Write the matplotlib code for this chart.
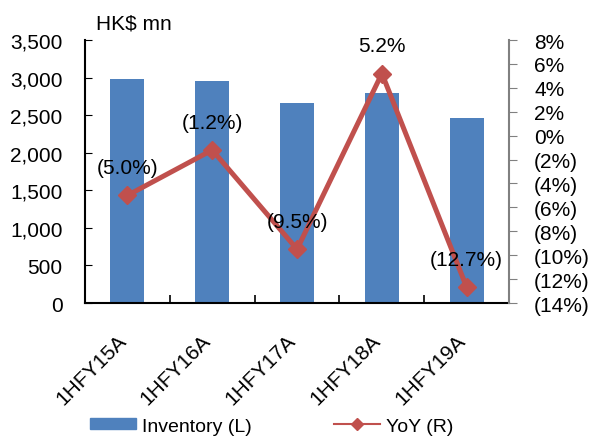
import matplotlib
matplotlib.use("Agg")
from matplotlib import pyplot as plt
from matplotlib import transforms
from matplotlib.ticker import FuncFormatter
from matplotlib.lines import Line2D
from matplotlib.patches import Patch
import numpy as np

plt.rcParams['font.family'] = ['Liberation Sans', 'DejaVu Sans']

periods = ['1HFY15A', '1HFY16A', '1HFY17A', '1HFY18A', '1HFY19A']
inventory = [2980, 2955, 2663, 2796, 2460]
yoy = [-5.0, -1.2, -9.5, 5.2, -12.7]
yoy_labels = ['(5.0%)', '(1.2%)', '(9.5%)', '5.2%', '(12.7%)']

bar_color = '#4F81BD'
line_color = '#C0504D'
fs = 15

fig = plt.figure(figsize=(5.9, 4.39), dpi=100)
ax = fig.add_axes([0.144, 0.3075, 0.719, 0.599])
x = np.arange(len(periods))

ax.bar(x, inventory, width=0.4, color=bar_color)
ax.set_xlim(-0.5, len(periods) - 0.5)
ax.set_ylim(0, 3500)
ax.set_yticks(np.arange(0, 3501, 500))
ax.yaxis.set_major_formatter(FuncFormatter(lambda v, p: f'{int(v):,}'))
ax.tick_params(axis='y', direction='in', length=5, labelsize=fs, pad=16)
ax.set_xticks(x)
ax.set_xticklabels(periods, rotation=45, ha='right', rotation_mode='anchor', fontsize=fs)
ax.tick_params(axis='x', length=0, pad=18)
# nudge the slanted labels a little to the left
shift = transforms.ScaledTranslation(-8 / 72, -2 / 72, fig.dpi_scale_trans)
for lbl in ax.get_xticklabels():
    lbl.set_transform(lbl.get_transform() + shift)
ax.set_xticks(np.arange(0.5, len(periods) - 0.5, 1), minor=True)
ax.tick_params(axis='x', which='minor', direction='in', length=6, width=1.2)
ax.spines['top'].set_visible(False)
ax.spines['right'].set_visible(False)
ax.spines['left'].set_linewidth(1.5)
ax.spines['bottom'].set_linewidth(1.5)
ax.text(0.025, 1.03, 'HK$ mn', transform=ax.transAxes, fontsize=fs, ha='left', va='bottom')

# YoY on the right axis
ax2 = ax.twinx()
ax2.plot(x, yoy, color=line_color, lw=3.6, marker='D', ms=9)
ax2.set_ylim(-14, 8)
ax2.set_yticks(np.arange(-14, 9, 2))
ax2.yaxis.set_major_formatter(FuncFormatter(lambda v, p: f'{int(v)}%' if v >= 0 else f'({int(-v)}%)'))
ax2.tick_params(axis='y', direction='out', length=6, color='#808080', labelsize=fs, pad=12)
for s in ['top', 'left', 'bottom']:
    ax2.spines[s].set_visible(False)
ax2.spines['right'].set_color('#808080')
ax2.spines['right'].set_linewidth(1.5)

for xi, v, lab in zip(x, yoy, yoy_labels):
    ax2.annotate(lab, (xi, v), xytext=(0, 13), textcoords='offset points',
                 ha='center', va='bottom', fontsize=fs)

handles = [Patch(color=bar_color), Line2D([], [], color=line_color, lw=1.5, marker='D', ms=6)]
fig.legend(handles, ['Inventory (L)', 'YoY (R)'], loc='center left', bbox_to_anchor=(80 / 590, 0.0273),
           ncol=2, frameon=False, fontsize=14, columnspacing=4.2, handlelength=2.4,
           handleheight=0.5, handletextpad=0.3, borderpad=0)

fig.savefig('out.png', dpi=100)
